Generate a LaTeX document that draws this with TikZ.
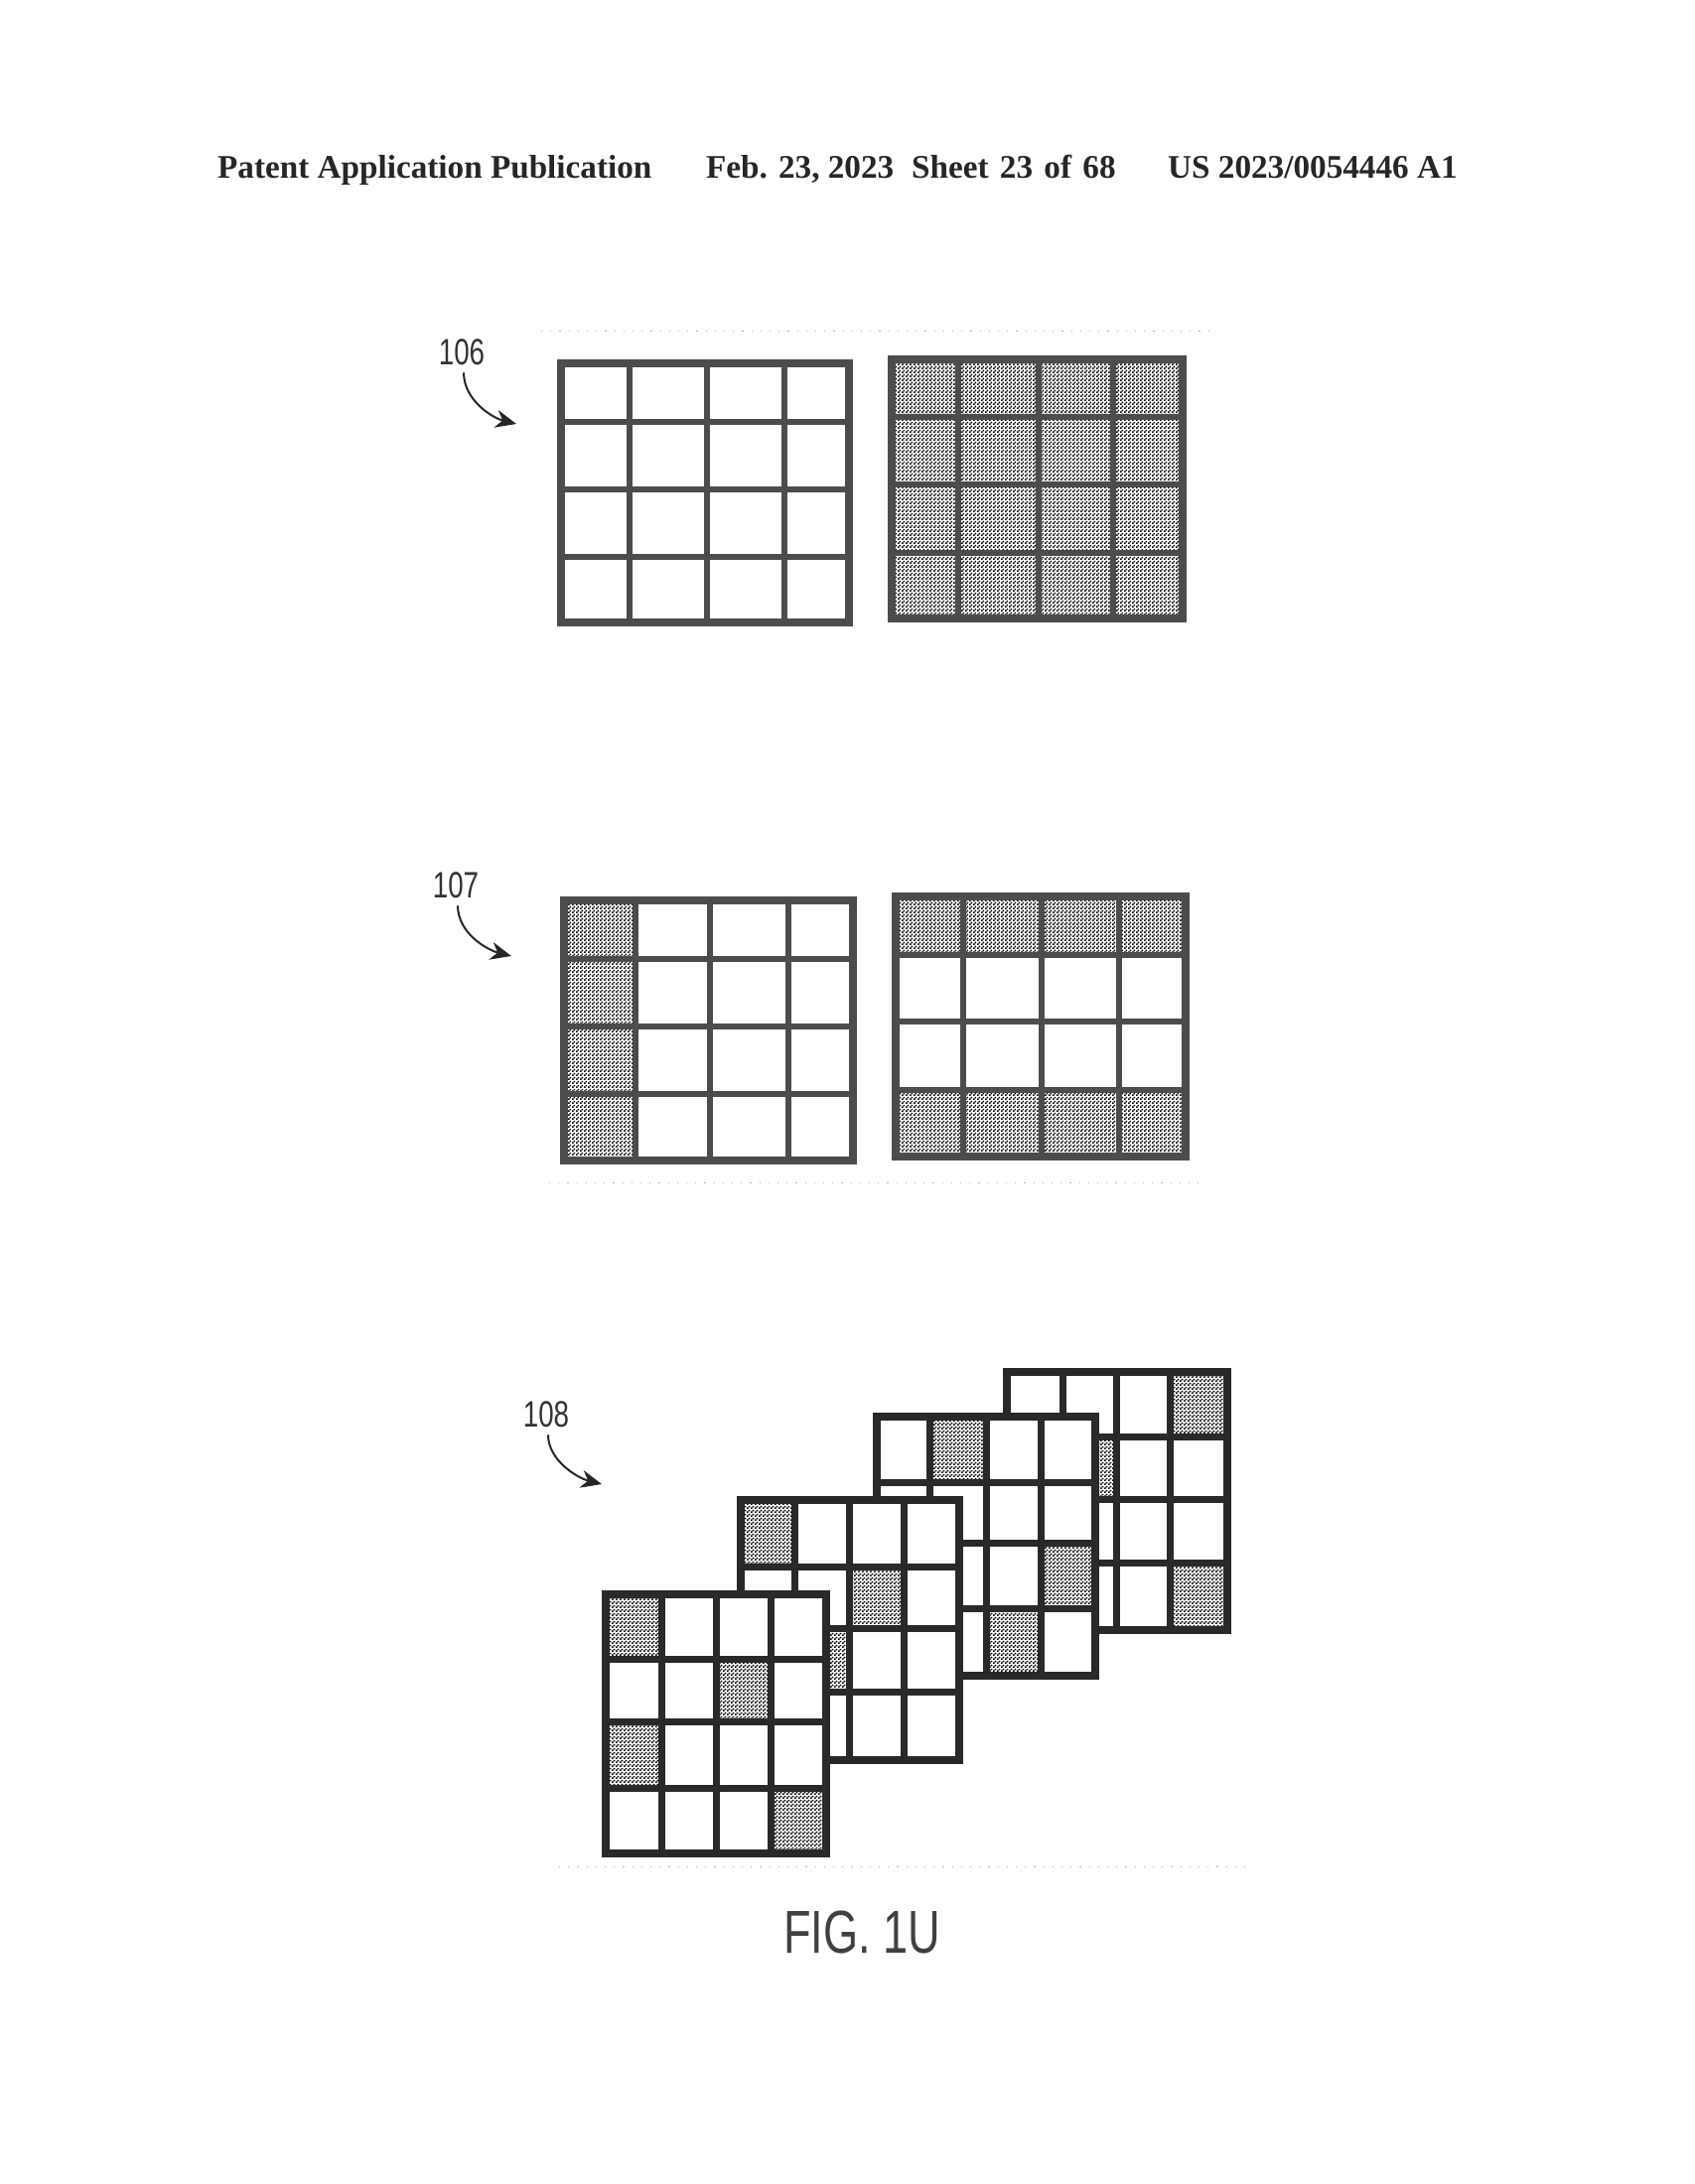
\documentclass[tikz,border=0pt]{standalone}
\usepackage{fontspec}
\setmainfont{Liberation Serif}
\setsansfont{Liberation Sans}
\usetikzlibrary{arrows.meta,patterns}
\pgfdeclarepatternformonly{halft}{\pgfqpoint{0pt}{0pt}}{\pgfqpoint{4pt}{4pt}}{\pgfqpoint{4pt}{4pt}}{%
  \pgfpathrectangle{\pgfqpoint{0pt}{0pt}}{\pgfqpoint{2pt}{2pt}}%
  \pgfpathrectangle{\pgfqpoint{2pt}{2pt}}{\pgfqpoint{2pt}{2pt}}%
  \pgfusepath{fill}}
\definecolor{gridline}{gray}{0.3}
\definecolor{stackline}{gray}{0.16}
\tikzset{
  hdr/.style={font=\fontsize{33.2}{35}\selectfont\bfseries, anchor=base west, inner sep=0pt, text=black!85},
  reflabel/.style={font=\sffamily\fontsize{37}{38}\selectfont, inner sep=0pt, text=black!80},
  figlabel/.style={font=\sffamily\fontsize{61}{62}\selectfont, inner sep=0pt, text=black!75},
  refarrow/.style={-{Stealth[length=21pt,width=18pt]}, line width=2pt, black!85},
  halfcell/.style={pattern=halft, pattern color=black},
  faint/.style={gray!60, line width=0.8pt, dash pattern=on 1.2pt off 8pt},
}
\newcommand\mygrid[6]{%
  \def\xs{{#1}}\def\ys{{#2}}%
  \fill[white] ({\xs[0]},{\ys[0]}) rectangle ({\xs[4]},{\ys[4]});
  \foreach \c/\r in {#3}{%
    \pgfmathsetmacro\xa{\xs[\c-1]}\pgfmathsetmacro\xb{\xs[\c]}%
    \pgfmathsetmacro\ya{\ys[\r-1]}\pgfmathsetmacro\yb{\ys[\r]}%
    \fill[halfcell] (\xa,\ya) rectangle (\xb,\yb);
  }
  \foreach \i in {1,2,3}{%
    \pgfmathsetmacro\xa{\xs[\i]}\pgfmathsetmacro\ya{\ys[\i]}%
    \draw[#6,line width=#5pt] (\xa,{\ys[0]}) -- (\xa,{\ys[4]});
    \draw[#6,line width=#5pt] ({\xs[0]},\ya) -- ({\xs[4]},\ya);
  }
  \draw[#6,line width=#4pt] ({\xs[0]},{\ys[0]}) rectangle ({\xs[4]},{\ys[4]});
}
\begin{document}
\begin{tikzpicture}[x=1pt,y=-1pt]
\useasboundingbox[fill=white] (0,0) rectangle (1707,2200);
% header
\node[hdr] (h1) at (219,179) {Patent Application Publication};
\node[hdr] (h2) at (711,179) {Feb. 23, 2023};
\node[hdr] (h3) at (918,179) {Sheet\hspace{3pt} 23\hspace{3pt} of\hspace{3pt} 68};
\node[hdr] (h4) at (1176,179) {US 2023/0054446 A1};
% faint dotted rules
\coordinate (d1a) at (545,333); \coordinate (d1b) at (1224,333);
\coordinate (d2a) at (553,1191); \coordinate (d2b) at (1208,1191);
\coordinate (d3a) at (563,1880); \coordinate (d3b) at (1258,1880);
\draw[faint] (d1a) -- (d1b);
\draw[faint] (d2a) -- (d2b);
\draw[faint] (d3a) -- (d3b);
% group 106
\mygrid{565,634,712,790,855}{366,425,493,561,627}{}{8}{6}{gridline}
\mygrid{898,965,1046,1121,1191}{362,420,488,557,623}{1/1,2/1,3/1,4/1,1/2,2/2,3/2,4/2,1/3,2/3,3/3,4/3,1/4,2/4,3/4,4/4}{8}{6}{gridline}
% group 107
\mygrid{568,640,715,794,859}{907,966,1034,1102,1169}{1/1,1/2,1/3,1/4}{8}{6}{gridline}
\mygrid{902,970,1049,1127,1194}{903,962,1029,1098,1165}{1/1,2/1,3/1,4/1,1/4,2/4,3/4,4/4}{8}{6}{gridline}
% group 108, back to front
\mygrid{1014,1070,1124,1178,1236}{1382,1447,1510,1574,1642}{4/1,2/2,4/4}{8}{7}{stackline}
\mygrid{883,936,993,1048,1103}{1427,1493,1554,1620,1688}{2/1,4/3,3/4}{8}{7}{stackline}
\mygrid{746,800,855,910,966}{1511,1578,1640,1704,1773}{1/1,3/2,2/3}{8}{7}{stackline}
\mygrid{610,666,721,776,832}{1606,1671,1734,1801,1867}{1/1,3/2,1/3,4/4}{8}{7}{stackline}
% labels
\node[reflabel] (l106) at (465,355) {\scalebox{0.75}[1]{106}};
\node[reflabel] (l107) at (459,892) {\scalebox{0.75}[1]{107}};
\node[reflabel] (l108) at (550,1425) {\scalebox{0.75}[1]{108}};
\coordinate (t106) at (520,427);
\coordinate (t107) at (515,963);
\coordinate (t108) at (606,1495);
\draw[refarrow] (l106.south) ++(2,7) .. controls +(0,28) and +(-24,-6) .. (t106);
\draw[refarrow] (l107.south) ++(2,7) .. controls +(0,28) and +(-24,-6) .. (t107);
\draw[refarrow] (l108.south) ++(2,7) .. controls +(0,26) and +(-24,-6) .. (t108);
\node[figlabel] (fig) at (868,1946) {\scalebox{0.74}[1]{FIG. 1U}};
\end{tikzpicture}
\end{document}
